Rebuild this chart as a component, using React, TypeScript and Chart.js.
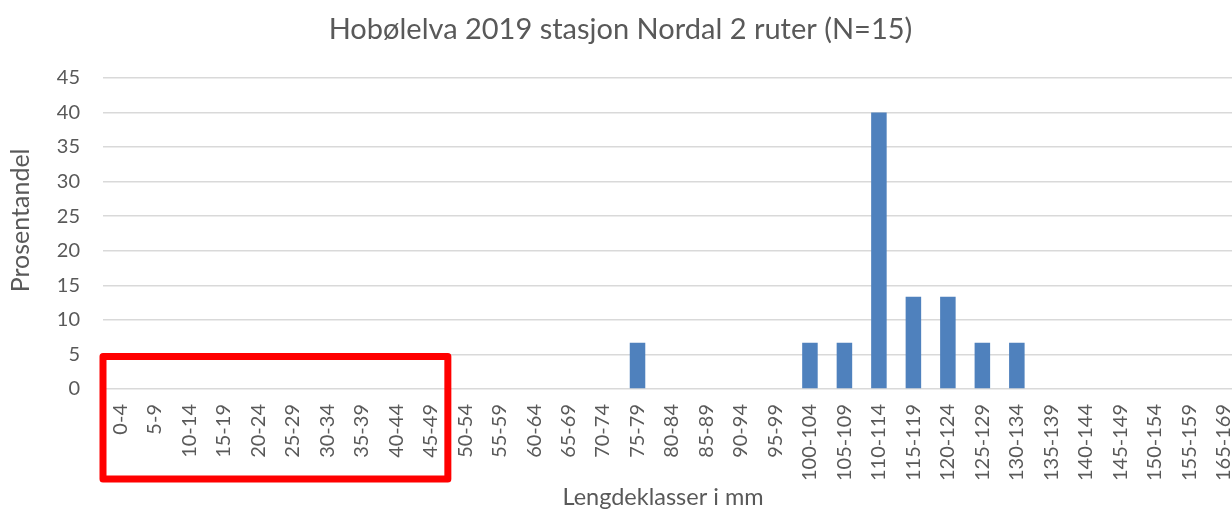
import React, { useEffect, useRef } from "react";
import { Chart, registerables } from "chart.js";

Chart.register(...registerables);

const categories = [
  "0-4", "5-9", "10-14", "15-19", "20-24", "25-29", "30-34", "35-39", "40-44", "45-49",
  "50-54", "55-59", "60-64", "65-69", "70-74", "75-79", "80-84", "85-89", "90-94", "95-99",
  "100-104", "105-109", "110-114", "115-119", "120-124", "125-129", "130-134", "135-139",
  "140-144", "145-149", "150-154", "155-159", "165-169",
];

const percentages = [
  0, 0, 0, 0, 0, 0, 0, 0, 0, 0,
  0, 0, 0, 0, 0, 6.67, 0, 0, 0, 0,
  6.67, 6.67, 40, 13.33, 13.33, 6.67, 6.67, 0,
  0, 0, 0, 0, 0,
];

const chartTitle = "Hobølelva 2019 stasjon Nordal 2 ruter (N=15)";
const yAxisTitle = "Prosentandel";
const xAxisTitle = "Lengdeklasser i mm";
const yMin = 0;
const yMax = 45;
const yStep = 5;

// highlighted region (red frame), in data units
const highlightCategories = ["0-4", "45-49"];
const highlightValueRange = [-13, 4.7];

const FONT = "Lato, 'Open Sans', sans-serif";
const TEXT = "#595959";

const highlightPlugin = {
  id: "highlightFrame",
  afterDraw(chart: any) {
    const xs = chart.scales.x;
    const ys = chart.scales.y;
    const i0 = categories.indexOf(highlightCategories[0]);
    const i1 = categories.indexOf(highlightCategories[1]);
    const half = (xs.getPixelForValue(1) - xs.getPixelForValue(0)) / 2;
    const left = xs.getPixelForValue(i0) - half;
    const right = xs.getPixelForValue(i1) + half;
    const top = ys.getPixelForValue(highlightValueRange[1]);
    const bottom = ys.getPixelForValue(highlightValueRange[0]);
    const ctx = chart.ctx;
    ctx.save();
    ctx.strokeStyle = "#FF0000";
    ctx.lineWidth = 7;
    ctx.lineJoin = "round";
    ctx.beginPath();
    ctx.rect(left, top, right - left, bottom - top);
    ctx.stroke();
    ctx.restore();
  },
};

const axisTitlePlugin = {
  id: "axisTitles",
  afterDraw(chart: any) {
    const { ctx, chartArea, height } = chart;
    ctx.save();
    ctx.fillStyle = TEXT;
    ctx.textAlign = "center";
    ctx.textBaseline = "middle";
    // x axis title
    ctx.font = `23.5px ${FONT}`;
    ctx.fillText(xAxisTitle, (chartArea.left + chartArea.right) / 2 - 9, height - 12);
    // y axis title
    ctx.font = `25px ${FONT}`;
    ctx.translate(chartArea.left - 82, (chartArea.top + chartArea.bottom) / 2 - 13);
    ctx.rotate(-Math.PI / 2);
    ctx.fillText(yAxisTitle, 0, 0);
    ctx.restore();
  },
};

export default function App() {
  const ref = useRef<HTMLCanvasElement | null>(null);

  useEffect(() => {
    document.body.style.margin = "0";
    const canvas = ref.current;
    if (!canvas) return;
    const chart = new Chart(canvas, {
      type: "bar",
      data: {
        labels: categories,
        datasets: [
          {
            data: percentages,
            backgroundColor: "#4F81BD",
            categoryPercentage: 1,
            barPercentage: 0.45,
          },
        ],
      },
      options: {
        responsive: false,
        animation: false,
        devicePixelRatio: 1,
        layout: { padding: { left: 0, right: 1, top: 0, bottom: 0 } },
        plugins: {
          legend: { display: false },
          tooltip: { enabled: false },
          title: {
            display: true,
            text: chartTitle,
            color: TEXT,
            font: { family: FONT, size: 29, weight: "normal", lineHeight: 1.2 },
            padding: { top: 12, bottom: 31 },
          },
        },
        scales: {
          x: {
            grid: { display: false, drawTicks: false },
            border: { display: false },
            ticks: {
              autoSkip: false,
              maxRotation: 90,
              minRotation: 90,
              padding: 15,
              color: TEXT,
              font: { family: FONT, size: 20 },
            },
            afterFit(scale: any) {
              scale.height = 120;
              scale.paddingLeft = 0;
              scale.paddingRight = 0;
            },
          },
          y: {
            min: yMin,
            max: yMax,
            grid: { color: "#D9D9D9", lineWidth: 1.5, drawTicks: false },
            border: { display: false },
            ticks: {
              stepSize: yStep,
              padding: 23,
              color: TEXT,
              font: { family: FONT, size: 20 },
            },
            afterFit(scale: any) {
              scale.width = 103;
            },
          },
        },
      },
      plugins: [highlightPlugin, axisTitlePlugin],
    });
    return () => chart.destroy();
  }, []);

  return (
    <div style={{ width: 1232, height: 509, overflow: "hidden", position: "relative", background: "#fff" }}>
      <canvas ref={ref} width={1242} height={509} style={{ display: "block" }} />
    </div>
  );
}
